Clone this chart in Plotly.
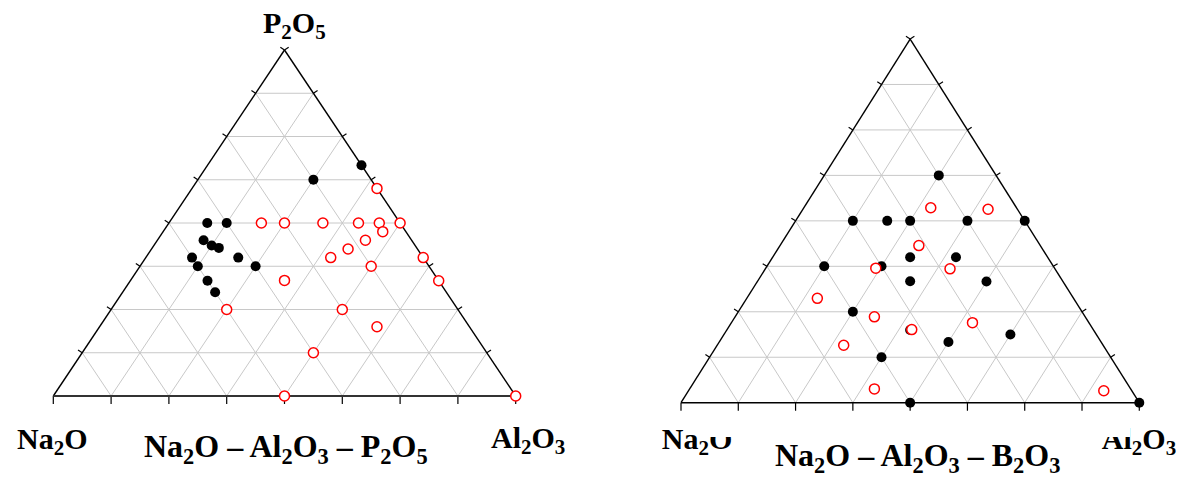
import plotly.graph_objects as go

W, H = 1179, 478

# ---------------- data (mol %) ----------------
# Panel 1: Na2O - Al2O3 - P2O5
p1_glass_na2o = [0, 12.5, 41.7, 37.5, 45, 44, 42.8, 50, 40, 50, 37.5, 50, 50]
p1_glass_al2o3 = [33.3, 25, 8.3, 12.5, 10, 12.5, 14.4, 10, 20, 12.5, 25, 16.7, 20]
p1_glass_p2o5 = [66.7, 62.5, 50, 50, 45, 43.5, 42.8, 40, 40, 37.5, 37.5, 33.3, 30]

p1_other_na2o = [0, 30, 25, 16.7, 9, 4.5, 0, 5, 10, 15, 20, 0, 12.5, 0, 33.3, 50, 25, 20, 37.5, 50, 0]
p1_other_al2o3 = [40, 20, 25, 33.3, 41, 45.5, 50, 47.5, 45, 42.5, 40, 60, 50, 66.7, 33.3, 25, 50, 60, 50, 50, 100]
p1_other_p2o5 = [60, 50, 50, 50, 50, 50, 50, 47.5, 45, 42.5, 40, 40, 37.5, 33.3, 33.4, 25, 25, 20, 12.5, 0, 0]

# Panel 2: Na2O - Al2O3 - B2O3
p2_glass_na2o = [12.5, 37.5, 30, 25, 12.5, 0, 30, 20, 50, 37.5, 33.3, 16.7, 50, 18.75, 33.3, 50, 50, 0, 40]
p2_glass_al2o3 = [25, 12.5, 20, 25, 37.5, 50, 30, 40, 12.5, 25, 33.3, 50, 25, 62.5, 50, 37.5, 50, 100, 40]
p2_glass_b2o3 = [62.5, 50, 50, 50, 50, 50, 40, 40, 37.5, 37.5, 33.4, 33.3, 25, 18.75, 16.7, 12.5, 0, 0, 20]

p2_other_na2o = [18.7, 6.4, 26.5, 39, 22.9, 55.9, 46, 39.6, 25.4, 56.6, 55.9, 6.1]
p2_other_al2o3 = [27.7, 40.4, 30.3, 24, 40.3, 15.4, 30.4, 40.3, 52.6, 27.6, 40.3, 90.6]
p2_other_b2o3 = [53.6, 53.2, 43.2, 37, 36.8, 28.7, 23.6, 20.1, 22, 15.8, 3.8, 3.3]

grid_fracs = [k / 8 for k in range(1, 8)]
tick_fracs = [k / 8 for k in range(0, 9)]

panel1_title = "<b>Na<sub>2</sub>O \u2013 Al<sub>2</sub>O<sub>3</sub> \u2013 P<sub>2</sub>O<sub>5</sub></b>"
panel2_title = "<b>Na<sub>2</sub>O \u2013 Al<sub>2</sub>O<sub>3</sub> \u2013 B<sub>2</sub>O<sub>3</sub></b>"
lab_na = "<b>Na<sub>2</sub>O</b>"
lab_al = "<b>Al<sub>2</sub>O<sub>3</sub></b>"
lab_p = "<b>P<sub>2</sub>O<sub>5</sub></b>"

# ---------------- layout geometry (pixels) ----------------
panels = [
    dict(x0=53.3, x1=515.7, yb=396.0, yt=50.0, xr=(-0.1, 1.1), yr=(-0.2, 1.05),
         base_color='#333333', base_width=2.2),
    dict(x0=681.0, x1=1139.3, yb=402.7, yt=39.0, xr=(-0.1, 1.08), yr=(-0.2, 1.05),
         base_color='black', base_width=1.5),
]


def domains(p):
    sx = p['x1'] - p['x0']
    sy = p['yb'] - p['yt']
    xa = p['x0'] + p['xr'][0] * sx
    xb = p['x0'] + p['xr'][1] * sx
    ya = p['yb'] - p['yr'][0] * sy
    yb = p['yb'] - p['yr'][1] * sy
    return [xa / W, xb / W], [1 - ya / H, 1 - yb / H]


def proj(na, al, top):
    xs, ys = [], []
    for a, b, c in zip(na, al, top):
        s = a + b + c
        xs.append((b + c / 2) / s)
        ys.append(c / s)
    return xs, ys


def seg_lists(segs):
    xs, ys = [], []
    for (p, q) in segs:
        x, y = proj([p[0], q[0]], [p[1], q[1]], [p[2], q[2]])
        xs += x + [None]
        ys += y + [None]
    return xs, ys


FONT = "Liberation Serif"
fig = go.Figure()

for i, p in enumerate(panels):
    sx = p['x1'] - p['x0']
    sy = p['yb'] - p['yt']
    ux, uy = 1 / sx, 1 / sy
    xa = 'x' if i == 0 else 'x2'
    ya = 'y' if i == 0 else 'y2'

    # grid
    segs = []
    for f in grid_fracs:
        segs.append(((1 - f, 0, f), (0, 1 - f, f)))
        segs.append(((1 - f, f, 0), (0, f, 1 - f)))
        segs.append(((f, 1 - f, 0), (f, 0, 1 - f)))
    gx, gy = seg_lists(segs)
    fig.add_trace(go.Scatter(x=gx, y=gy, mode='lines', xaxis=xa, yaxis=ya,
                             line=dict(color='#c8c8c8', width=1), hoverinfo='skip',
                             showlegend=False))

    # ticks
    tx, ty = [], []
    for f in tick_fracs:
        tx += [f, f, None]
        ty += [0, -8 * uy, None]
    L = 5.0
    n = (sy ** 2 + (sx / 2) ** 2) ** 0.5
    nlx, nly = -sy / n, -(sx / 2) / n
    for f in tick_fracs[1:]:
        bx, by = f / 2, f
        tx += [bx, bx + nlx * L * ux, None]
        ty += [by, by - nly * L * uy, None]
        bx = 1 - f / 2
        tx += [bx, bx - nlx * L * ux, None]
        ty += [by, by - nly * L * uy, None]
    fig.add_trace(go.Scatter(x=tx, y=ty, mode='lines', xaxis=xa, yaxis=ya,
                             line=dict(color='black', width=1.2), hoverinfo='skip',
                             showlegend=False, cliponaxis=False))

    # edges
    ex, ey = seg_lists([((1, 0, 0), (0, 0, 1)), ((0, 1, 0), (0, 0, 1))])
    fig.add_trace(go.Scatter(x=ex, y=ey, mode='lines', xaxis=xa, yaxis=ya,
                             line=dict(color='black', width=1.4), hoverinfo='skip',
                             showlegend=False))
    bx_, by_ = seg_lists([((1, 0, 0), (0, 1, 0))])
    fig.add_trace(go.Scatter(x=bx_, y=by_, mode='lines', xaxis=xa, yaxis=ya,
                             line=dict(color=p['base_color'], width=p['base_width']),
                             hoverinfo='skip', showlegend=False))

    # data
    if i == 0:
        gxs, gys = proj(p1_glass_na2o, p1_glass_al2o3, p1_glass_p2o5)
        oxs, oys = proj(p1_other_na2o, p1_other_al2o3, p1_other_p2o5)
    else:
        gxs, gys = proj(p2_glass_na2o, p2_glass_al2o3, p2_glass_b2o3)
        oxs, oys = proj(p2_other_na2o, p2_other_al2o3, p2_other_b2o3)
    fig.add_trace(go.Scatter(x=gxs, y=gys, mode='markers', xaxis=xa, yaxis=ya,
                             marker=dict(symbol='circle', size=10, color='black',
                                         line=dict(width=0)),
                             showlegend=False, cliponaxis=False))
    fig.add_trace(go.Scatter(x=oxs, y=oys, mode='markers', xaxis=xa, yaxis=ya,
                             marker=dict(symbol='circle', size=10, color='white',
                                         line=dict(color='red', width=1.5)),
                             showlegend=False, cliponaxis=False))

# right panel vertex labels as text (partly hidden beneath a white box, as in the original)
p = panels[1]
sx = p['x1'] - p['x0']
sy = p['yb'] - p['yt']
fig.add_trace(go.Scatter(
    x=[(697 - p['x0']) / sx, (1139 - p['x0']) / sx],
    y=[(p['yb'] - 441) / sy, (p['yb'] - 441) / sy],
    text=[lab_na, lab_al], mode='text', textposition='middle center',
    textfont=dict(family=FONT, size=30, color='black'),
    xaxis='x2', yaxis='y2', showlegend=False, cliponaxis=False, hoverinfo='skip'))

d1x, d1y = domains(panels[0])
d2x, d2y = domains(panels[1])

fig.update_layout(
    width=W, height=H, margin=dict(l=0, r=0, t=0, b=0),
    paper_bgcolor='white', plot_bgcolor='rgba(0,0,0,0)',
    xaxis=dict(domain=d1x, range=list(panels[0]['xr']), visible=False, fixedrange=True),
    yaxis=dict(domain=d1y, range=list(panels[0]['yr']), visible=False, fixedrange=True),
    xaxis2=dict(domain=d2x, range=list(panels[1]['xr']), visible=False, fixedrange=True),
    yaxis2=dict(domain=d2y, range=list(panels[1]['yr']), visible=False, fixedrange=True),
)


def ann(text, px, py, size=30):
    fig.add_annotation(text=text, x=px / W, y=1 - py / H, xref='paper', yref='paper',
                       showarrow=False, xanchor='center', yanchor='middle',
                       font=dict(family=FONT, size=size, color='black'))


ann(lab_p, 294, 25)
ann(lab_na, 52, 441)
ann(panel1_title, 286, 448, size=32)
ann(lab_al, 528, 440)
ann(panel2_title, 917, 457, size=32)

fig.add_shape(type='rect', xref='paper', yref='paper',
              x0=706 / W, x1=1130 / W, y0=1 - 437 / H, y1=1 - 414 / H,
              fillcolor='white', line=dict(width=0), layer='above')

fig.write_html("out.html")
